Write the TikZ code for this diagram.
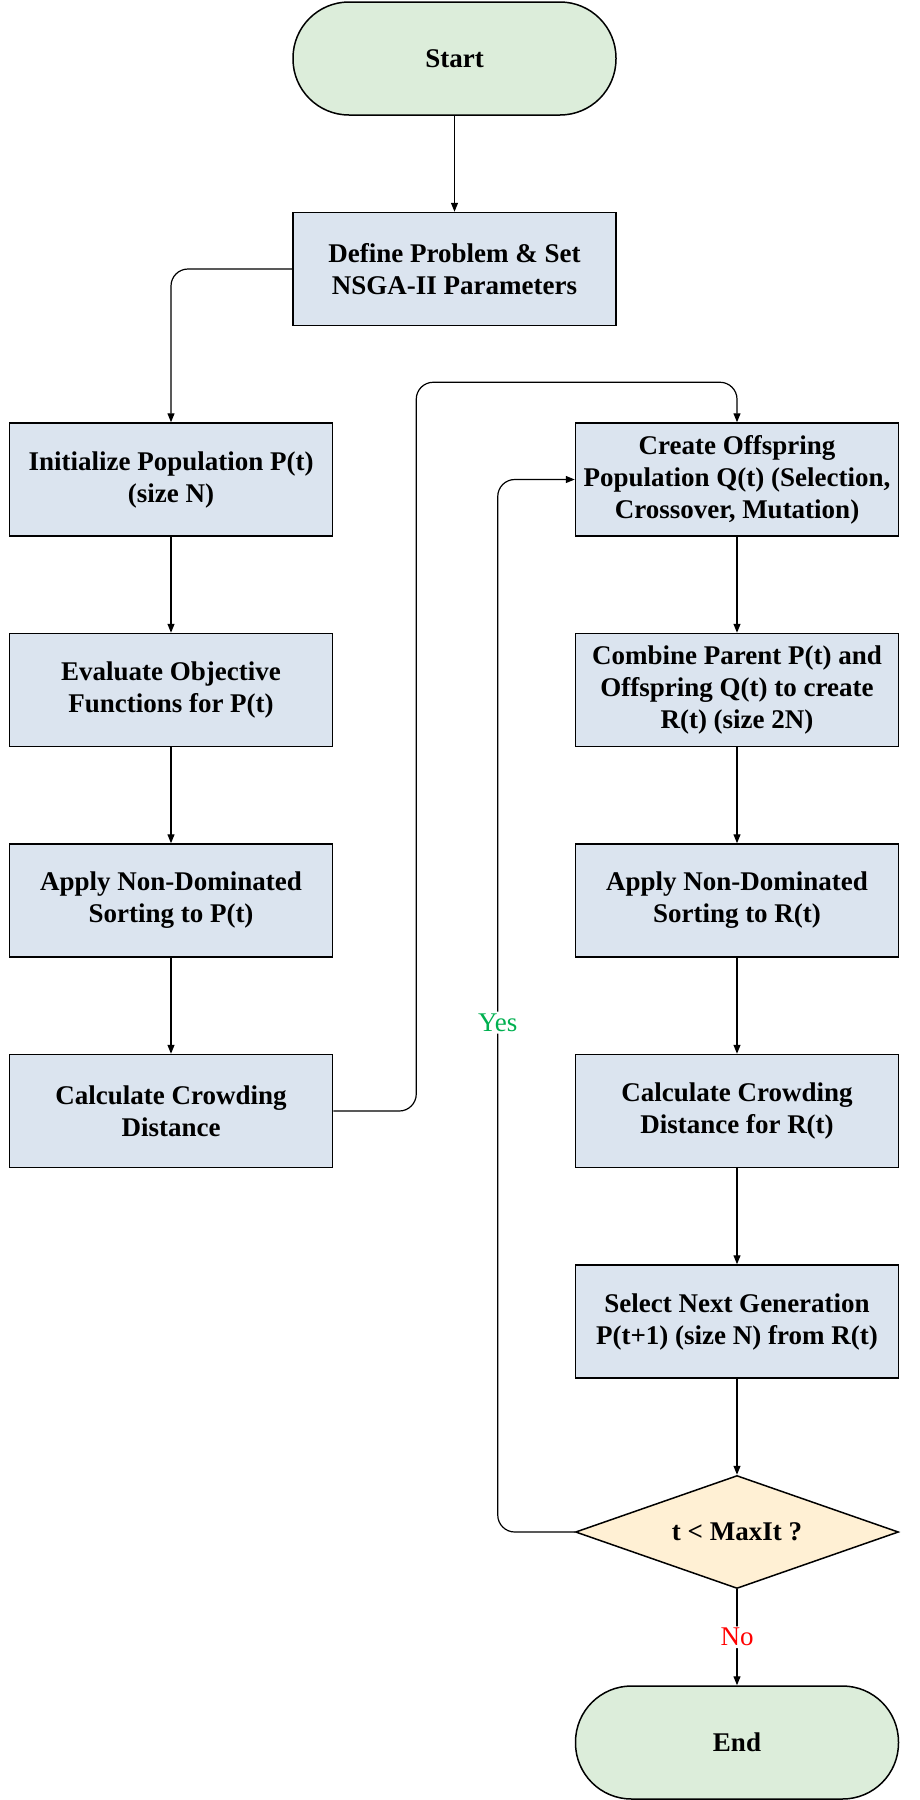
\documentclass[tikz,border=0pt]{standalone}
\usepackage{fontspec}
\setmainfont{Liberation Serif}
\usepackage{tikz}
\usepackage{xcolor}
\usetikzlibrary{positioning,shapes.geometric,arrows.meta}
\definecolor{termgreen}{RGB}{220,237,218}
\definecolor{procblue}{RGB}{219,228,239}
\definecolor{decisionsand}{RGB}{255,240,212}
\definecolor{yesgreen}{RGB}{0,176,80}
\tikzset{
    process-box/.style = {draw=black, fill=procblue, line width=1.5pt, rectangle, minimum width=323pt, minimum height=113pt, inner sep=2pt, align=center, font=\fontsize{27}{32}\selectfont\bfseries},
    terminal-box/.style = {process-box, fill=termgreen, rounded corners=56pt},
    decision-box/.style = {process-box, fill=decisionsand, diamond, minimum height=113pt, inner sep=0pt, aspect=2.85},
    flow-arrow/.style = {draw=black, line width=1.2pt, rounded corners=17pt, -{Triangle[length=9pt,width=7pt]}},
    branch-label/.style = {fill=white, inner sep=2pt, font=\fontsize{27}{32}\selectfont},
}

\begin{document}
\begin{tikzpicture}[x=1pt,y=1pt]
\useasboundingbox (0,0) rectangle (920,-1800);
% top of the chart
\node [terminal-box] (start) at (454.5,-58.5) {Start};
\node [process-box] (define) at (454.5,-269) {Define Problem \& Set\\NSGA-II Parameters};
% left column
\node [process-box] (init) at (171,-479.5) {Initialize Population P(t)\\(size N)};
\node [process-box, below=96pt of init] (evaluate) {Evaluate Objective\\Functions for P(t)};
\node [process-box, below=96pt of evaluate] (sortp) {Apply Non-Dominated\\Sorting to P(t)};
\node [process-box, below=96pt of sortp] (crowdp) {Calculate Crowding\\Distance};
% right column
\node [process-box] (offspring) at (737,-479.5) {Create Offspring\\Population Q(t) (Selection,\\Crossover, Mutation)};
\node [process-box, below=96pt of offspring] (combine) {Combine Parent P(t) and\\Offspring Q(t) to create\\R(t) (size 2N)};
\node [process-box, below=96pt of combine] (sortr) {Apply Non-Dominated\\Sorting to R(t)};
\node [process-box, below=96pt of sortr] (crowdr) {Calculate Crowding\\Distance for R(t)};
\node [process-box, below=96pt of crowdr] (select) {Select Next Generation\\P(t+1) (size N) from R(t)};
\node [decision-box, below=96pt of select] (check) {t < MaxIt ?};
\node [terminal-box, below=96pt of check] (finish) {End};

\draw [flow-arrow] (start) -- (define);
\draw [flow-arrow] (define.west) -| (init.north);
\draw [flow-arrow] (init) -- (evaluate);
\draw [flow-arrow] (evaluate) -- (sortp);
\draw [flow-arrow] (sortp) -- (crowdp);
\draw [flow-arrow] (crowdp.east) -- ++(83pt,0) |- ([yshift=40pt]offspring.north) -- (offspring.north);
\draw [flow-arrow] (offspring) -- (combine);
\draw [flow-arrow] (combine) -- (sortr);
\draw [flow-arrow] (sortr) -- (crowdr);
\draw [flow-arrow] (crowdr) -- (select);
\draw [flow-arrow] (select) -- (check);
% loop back and exit
\draw [flow-arrow] (check.west) -| ([xshift=-77pt]offspring.west) node [branch-label, text=yesgreen, pos=0.742] {Yes} -- (offspring.west);
\draw [flow-arrow] (check) -- node [branch-label, text=red] {No} (finish);
\end{tikzpicture}
\end{document}
